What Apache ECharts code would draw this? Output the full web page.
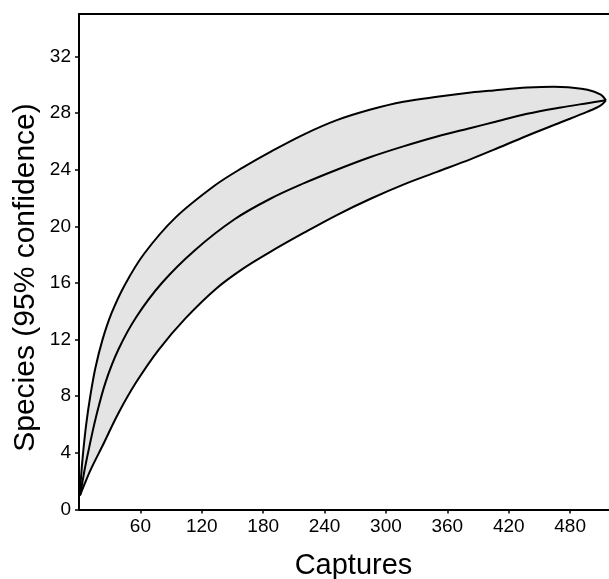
<!DOCTYPE html>
<html><head><meta charset="utf-8">
<script src="https://cdn.jsdelivr.net/npm/echarts@6/dist/echarts.min.js"></script>
<style>html,body{margin:0;padding:0;background:#fff}#c{width:609px;height:579px}</style>
</head><body><div id="c"></div>
<script>
// Captures vs species (95% confidence band)
const upper = [[1,1],[2,2.3],[4,4.0],[7,6.0],[11,8.0],[16,10.0],[23,12.0],[32,13.9],[45,15.9],[64,18.1],[94,20.6],[133,22.9],[160,24.15],[188,25.3],[220,26.5],[252,27.5],[285,28.25],[317,28.8],[350,29.15],[383,29.45],[405,29.6],[438,29.8],[471,29.85],[497,29.65],[510,29.3],[515,28.9]];
const mean = [[1,1],[3,1.8],[6,3.0],[10,4.4],[16.5,6.5],[26,9],[38.5,11.3],[56,13.6],[81,16],[113,18.3],[152,20.5],[187,21.95],[220,23.05],[252,24.0],[285,24.9],[317,25.65],[350,26.35],[383,26.95],[405,27.35],[438,27.95],[471,28.4],[497,28.7],[515,28.9]];
const lower = [[1,1],[6,1.9],[12,2.9],[23,4.5],[38.5,6.8],[56,9.0],[78,11.3],[104,13.5],[134,15.6],[160,17.0],[187,18.2],[220,19.55],[252,20.8],[285,21.95],[317,22.95],[350,23.85],[383,24.75],[405,25.4],[438,26.4],[471,27.35],[497,28.1],[510,28.55],[515,28.9]];
const xTicks = [60,120,180,240,300,360,420,480];
const yTicks = [0,4,8,12,16,20,24,28,32];
const xTitle = 'Captures';
const yTitle = 'Species (95% confidence)';

const FONT = '"Liberation Sans", Arial, sans-serif';
const chart = echarts.init(document.getElementById('c'), null, {renderer:'canvas'});
const SM = 0.35;
chart.setOption({
  animation:false,
  grid:{left:79, top:14, width:530, height:495.5, containLabel:false},
  xAxis:[{
    type:'value', min:0, max:518, position:'bottom',
    axisLine:{show:true, onZero:false, lineStyle:{color:'#000', width:2}},
    axisTick:{show:true, customValues:xTicks, length:4, lineStyle:{color:'#000', width:1.5}},
    axisLabel:{show:true, customValues:xTicks, color:'#000', fontSize:19, fontFamily:FONT, margin:8},
    splitLine:{show:false}
  },{
    type:'value', min:0, max:518, position:'top',
    axisLine:{show:true, onZero:false, lineStyle:{color:'#000', width:2}},
    axisTick:{show:false}, axisLabel:{show:false}, splitLine:{show:false}
  }],
  yAxis:{
    type:'value', min:0, max:35,
    axisLine:{show:true, onZero:false, lineStyle:{color:'#000', width:2}},
    axisTick:{show:true, customValues:yTicks, length:4, lineStyle:{color:'#000', width:1.5}},
    axisLabel:{show:true, customValues:yTicks, color:'#000', fontSize:19, fontFamily:FONT, margin:8},
    splitLine:{show:false}
  },
  graphic:[
    {type:'text', x:353.5, y:566, style:{text:xTitle, font:'29px ' + FONT, fill:'#000', align:'center', verticalAlign:'middle'}},
    {type:'text', x:26, y:277.5, rotation:Math.PI/2, style:{text:yTitle, font:'30px ' + FONT, fill:'#000', align:'center', verticalAlign:'middle'}}
  ],
  series:[
    {
      type:'custom', coordinateSystem:'cartesian2d', silent:true, z:2,
      data:[[0,0]],
      renderItem:function(params, api){
        const c = (arr) => arr.map(p=>api.coord(p));
        const band = c(upper).concat(c(lower).reverse());
        const ln = (pts) => ({type:'polyline', shape:{points:pts, smooth:SM}, style:{fill:null, stroke:'#000', lineWidth:2}, z2:5});
        return {type:'group', children:[
          {type:'polygon', shape:{points:band, smooth:SM}, style:{fill:'#e4e4e4', stroke:null}, z2:1},
          ln(c(upper)), ln(c(mean)), ln(c(lower))
        ]};
      }
    }
  ]
});
</script></body></html>
